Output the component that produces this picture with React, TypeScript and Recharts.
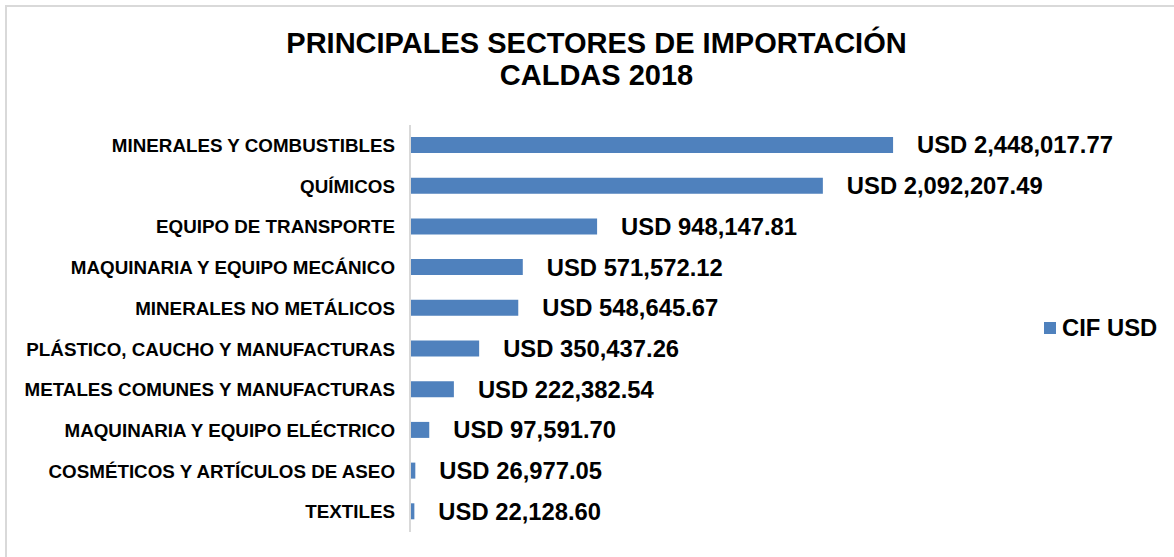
import { BarChart, Bar, XAxis, YAxis, LabelList, Legend } from "recharts";

const sectors = [
  "MINERALES Y COMBUSTIBLES",
  "QUÍMICOS",
  "EQUIPO DE TRANSPORTE",
  "MAQUINARIA Y EQUIPO MECÁNICO",
  "MINERALES NO METÁLICOS",
  "PLÁSTICO, CAUCHO Y MANUFACTURAS",
  "METALES COMUNES Y MANUFACTURAS",
  "MAQUINARIA Y EQUIPO ELÉCTRICO",
  "COSMÉTICOS Y ARTÍCULOS DE ASEO",
  "TEXTILES",
];

const cifUsd = [
  2448017.77, 2092207.49, 948147.81, 571572.12, 548645.67, 350437.26,
  222382.54, 97591.7, 26977.05, 22128.6,
];

const seriesName = "CIF USD";

const data = sectors.map((sector, i) => ({ sector, cif: cifUsd[i] }));

const font = "'Liberation Sans', Arial, sans-serif";
const blue = "#4f81bd";

const fmt = (v: number) =>
  "USD " +
  v.toLocaleString("en-US", { minimumFractionDigits: 2, maximumFractionDigits: 2 });

const LegendBox = () => (
  <div style={{ display: "flex", alignItems: "center", fontFamily: font }}>
    <span style={{ width: 12, height: 12, background: blue, display: "inline-block", marginRight: 6 }} />
    <span style={{ fontWeight: 700, fontSize: 23.8, color: "#000" }}>{seriesName}</span>
  </div>
);

export default function App() {
  return (
    <div style={{ position: "absolute", left: 0, top: 0, width: 1174, height: 557, background: "#fff", overflow: "hidden" }}>
      <div
        style={{
          position: "absolute",
          left: 5,
          top: 5,
          width: 1180,
          height: 560,
          borderLeft: "2px solid #d9d9d9",
          borderTop: "2px solid #d9d9d9",
        }}
      />
      <div
        style={{
          position: "absolute",
          left: 0,
          top: 27,
          width: 1193,
          textAlign: "center",
          fontFamily: font,
          fontWeight: 700,
          fontSize: 29,
          lineHeight: "32px",
          color: "#000",
        }}
      >
        PRINCIPALES SECTORES DE IMPORTACIÓN
        <br />
        CALDAS 2018
      </div>
      <BarChart
        width={1174}
        height={557}
        data={data}
        layout="vertical"
        margin={{ top: 125, right: 42, bottom: 25, left: 0 }}
        barCategoryGap={0}
      >
        <XAxis type="number" domain={[0, 3000000]} hide />
        <YAxis
          type="category"
          dataKey="sector"
          width={410}
          tickLine={false}
          tickSize={0}
          tickMargin={15}
          axisLine={{ stroke: "#d9d9d9", strokeWidth: 2 }}
          interval={0}
          tick={{ fill: "#000", fontSize: 18.8, fontWeight: 700, fontFamily: font }}
        />
        <Legend
          layout="vertical"
          align="right"
          verticalAlign="middle"
          wrapperStyle={{ left: 1044, top: 314, width: 130 }}
          content={() => <LegendBox />}
        />
        <Bar dataKey="cif" name={seriesName} fill={blue} barSize={16} isAnimationActive={false}>
          <LabelList
            dataKey="cif"
            position="right"
            offset={24}
            formatter={(v: number) => fmt(v)}
            style={{ fill: "#000", fontSize: 23.8, fontWeight: 700, fontFamily: font }}
          />
        </Bar>
      </BarChart>
    </div>
  );
}
